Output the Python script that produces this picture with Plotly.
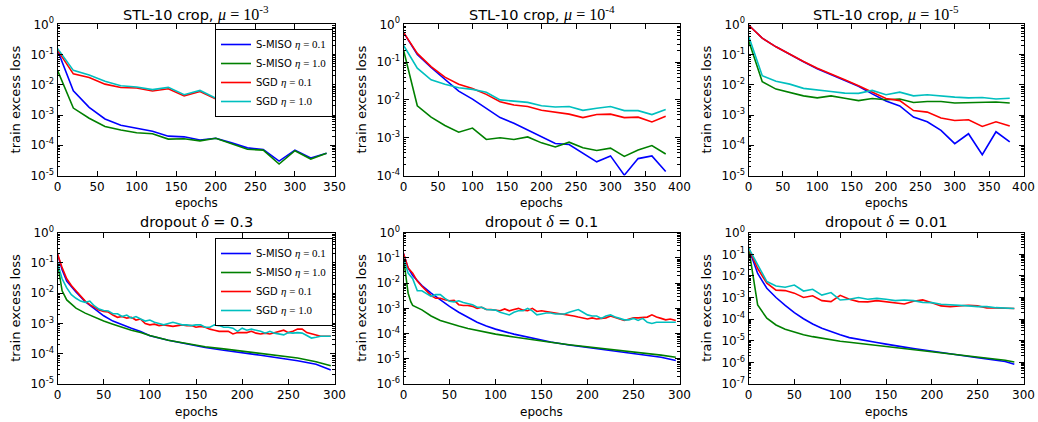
import plotly.graph_objects as go

# ---------------- data ----------------
series_names = ["S-MISO", "S-MISO", "SGD", "SGD"]
series_eta = ["0.1", "1.0", "0.1", "1.0"]
series_colors = ["#0000ff", "#008000", "#ff0000", "#00bfbf"]

# Panel 1: STL-10 crop, mu = 1e-3
p1_x = [0, 20, 40, 60, 80, 100, 120, 140, 160, 180, 200, 220, 240, 260, 280, 300, 320, 340]
p1_smiso01 = [0.14, 0.0063, 0.0018, 7.4e-4, 4.6e-4, 3.6e-4, 2.9e-4, 2.0e-4, 1.9e-4, 1.5e-4, 1.7e-4, 1.2e-4, 8.2e-5, 7.2e-5, 3.0e-5, 6.9e-5, 3.8e-5, 5.4e-5]
p1_smiso10 = [0.03, 1.7e-3, 7.8e-4, 4.2e-4, 3.2e-4, 2.6e-4, 2.4e-4, 1.6e-4, 1.65e-4, 1.4e-4, 1.7e-4, 1.1e-4, 7.4e-5, 6.9e-5, 2.4e-5, 6.6e-5, 3.5e-5, 5.4e-5]
p1_sgd01 = [0.14, 0.023, 0.0174, 0.0105, 0.0081, 0.0078, 0.0062, 0.0074, 0.0043, 0.006, 0.0034, 0.0041, 0.0036, 0.0023, 0.0022, 0.0024, 0.0018, 0.0022]
p1_sgd10 = [0.16, 0.03, 0.021, 0.013, 0.0093, 0.0084, 0.0069, 0.0082, 0.0047, 0.0065, 0.0036, 0.0045, 0.0039, 0.0024, 0.0023, 0.0026, 0.0019, 0.0024]

# Panel 2: STL-10 crop, mu = 1e-4
p2_x = [0, 20, 40, 60, 80, 100, 120, 140, 160, 180, 200, 220, 240, 260, 280, 300, 320, 340, 360, 380]
p2_smiso01 = [0.61, 0.16, 0.072, 0.034, 0.017, 0.0105, 0.006, 0.0034, 0.0024, 0.0016, 0.0011, 7e-4, 6.6e-4, 3.8e-4, 2.3e-4, 3.3e-4, 1.02e-4, 2.8e-4, 3.3e-4, 1.28e-4]
p2_smiso10 = [0.21, 0.007, 0.0035, 0.0021, 0.0014, 0.0018, 9e-4, 0.001, 9e-4, 0.00105, 7.3e-4, 5.7e-4, 7.6e-4, 5.4e-4, 4.6e-4, 5.3e-4, 3.2e-4, 4.7e-4, 6.2e-4, 3.7e-4]
p2_sgd01 = [0.61, 0.17, 0.076, 0.04, 0.026, 0.02, 0.014, 0.0089, 0.0073, 0.0067, 0.0053, 0.0048, 0.0042, 0.0034, 0.0041, 0.0042, 0.0034, 0.0035, 0.0026, 0.0037]
p2_sgd10 = [0.28, 0.069, 0.034, 0.026, 0.021, 0.019, 0.016, 0.010, 0.0093, 0.0086, 0.007, 0.0065, 0.0067, 0.0053, 0.006, 0.0067, 0.0052, 0.0052, 0.0041, 0.0056]

# Panel 3: STL-10 crop, mu = 1e-5
p3_x = [0, 20, 40, 60, 80, 100, 120, 140, 160, 180, 200, 220, 240, 260, 280, 300, 320, 340, 360, 380]
p3_smiso01 = [0.95, 0.35, 0.18, 0.10, 0.058, 0.034, 0.022, 0.014, 0.0089, 0.005, 0.0029, 0.002, 8.6e-4, 6e-4, 3.1e-4, 1.13e-4, 2.4e-4, 4.9e-5, 2.8e-4, 1.3e-4]
p3_smiso10 = [0.3, 0.0126, 0.0072, 0.0057, 0.0043, 0.0037, 0.0043, 0.0036, 0.003, 0.0035, 0.0032, 0.0034, 0.0026, 0.0028, 0.0028, 0.0025, 0.0026, 0.0026, 0.0027, 0.0025]
p3_sgd01 = [0.95, 0.35, 0.18, 0.10, 0.059, 0.035, 0.023, 0.0146, 0.0093, 0.0057, 0.0035, 0.003, 0.0014, 0.00125, 8e-4, 6.6e-4, 7e-4, 4.2e-4, 6e-4, 4.3e-4]
p3_sgd10 = [0.42, 0.020, 0.013, 0.0105, 0.0076, 0.0069, 0.006, 0.0053, 0.0052, 0.0065, 0.0047, 0.0057, 0.0043, 0.0047, 0.0042, 0.0039, 0.0037, 0.0038, 0.0034, 0.0036]

# Panel 4: dropout delta = 0.3
p4_xs = [0, 1, 5, 10, 20, 30, 40, 50, 60, 70, 80, 90, 100, 120, 140, 160, 180, 200, 220, 240, 260, 280, 296]
p4_smiso01 = [0.2, 0.15, 0.06, 0.025, 0.011, 0.0053, 0.003, 0.0018, 0.0012, 8.9e-4, 6.9e-4, 5.4e-4, 3.9e-4, 2.8e-4, 2.1e-4, 1.6e-4, 1.3e-4, 1.1e-4, 8.9e-5, 7.2e-5, 5.9e-5, 4.5e-5, 2.9e-5]
p4_xg = [0, 2, 5, 10, 20, 30, 40, 50, 60, 70, 80, 90, 100, 120, 140, 160, 180, 200, 220, 240, 260, 280, 296]
p4_smiso10 = [0.1, 0.04, 0.012, 0.006, 0.0032, 0.0022, 0.0016, 0.0012, 9.5e-4, 7.4e-4, 6e-4, 5e-4, 4e-4, 2.8e-4, 2.2e-4, 1.7e-4, 1.45e-4, 1.22e-4, 1.03e-4, 8.5e-5, 7.2e-5, 5.4e-5, 4e-5]
p4_xn = [0, 5, 10, 15, 20, 25, 30, 35, 40, 45, 50, 55, 60, 65, 70, 75, 80, 85, 90, 95, 100, 105, 110, 115, 120, 125, 130, 135, 140, 145, 150,
         155, 160, 165, 170, 175, 180, 185, 190, 195, 200, 205, 210, 215, 220, 225, 230, 235, 240, 245, 250, 255, 260, 265, 270, 275, 280, 285, 290, 296]
p4_sgd01 = [0.2, 0.07, 0.03, 0.018, 0.012, 0.008, 0.0055, 0.0042, 0.0035, 0.0028, 0.0025, 0.0024, 0.0019, 0.0016, 0.0017, 0.0015, 0.0016, 0.0013, 0.0014, 0.0010, 9e-4,
            9.5e-4, 8.5e-4, 9e-4, 8.5e-4, 8e-4, 8.5e-4, 9e-4, 8.5e-4, 8.5e-4, 7.5e-4, 8e-4, 7.5e-4, 6.5e-4, 6e-4, 5.5e-4, 5.5e-4, 5.5e-4, 4.5e-4, 5e-4, 5e-4,
            5e-4, 5.5e-4, 4.8e-4, 4.5e-4, 4.8e-4, 4.5e-4, 5e-4, 5.5e-4, 6e-4, 5e-4, 5.5e-4, 6.5e-4, 6.5e-4, 5e-4, 4.5e-4, 4e-4, 3.8e-4, 3.8e-4, 3.8e-4]
p4_sgd10 = [0.1, 0.03, 0.015, 0.009, 0.0068, 0.0055, 0.005, 0.0055, 0.0038, 0.0030, 0.0027, 0.0026, 0.0021, 0.0021, 0.0017, 0.0019, 0.0015, 0.0017, 0.0014, 0.0012, 0.0013,
            0.0011, 0.0010, 9e-4, 0.001, 0.0011, 0.001, 9e-4, 9e-4, 8.5e-4, 9e-4, 9e-4, 7.5e-4, 7.5e-4, 9e-4, 8.5e-4, 7.5e-4, 7.5e-4, 7e-4, 5.5e-4, 7e-4,
            6e-4, 6.5e-4, 6e-4, 5.5e-4, 4.8e-4, 5.5e-4, 4.8e-4, 4.5e-4, 4.2e-4, 5e-4, 4.8e-4, 5e-4, 4.8e-4, 4e-4, 3.3e-4, 3.5e-4, 3.8e-4, 3.8e-4, 3.8e-4]

# Panel 5: dropout delta = 0.1
p5_xs = [0, 5, 10, 20, 30, 40, 50, 60, 70, 80, 90, 100, 120, 140, 160, 180, 200, 220, 240, 260, 280, 296]
p5_smiso01 = [0.15, 0.04, 0.02, 0.008, 0.004, 0.0021, 0.0012, 7e-4, 4.3e-4, 2.8e-4, 2.0e-4, 1.5e-4, 9.5e-5, 6.4e-5, 4.6e-5, 3.5e-5, 2.8e-5, 2.2e-5, 1.85e-5, 1.5e-5, 1.15e-5, 8.5e-6]
p5_xg = [0, 2, 4, 5, 8, 10, 20, 30, 40, 50, 60, 70, 80, 90, 100, 120, 140, 160, 180, 200, 220, 240, 260, 280, 296]
p5_smiso10 = [0.1, 0.03, 0.01, 0.004, 0.0018, 0.0013, 8.7e-4, 5e-4, 3.3e-4, 2.5e-4, 2e-4, 1.6e-4, 1.35e-4, 1.12e-4, 9.5e-5, 7.3e-5, 5.6e-5, 4.5e-5, 3.6e-5, 3e-5, 2.5e-5, 2.1e-5, 1.7e-5, 1.4e-5, 1.15e-5]
p5_xn = p4_xn
p5_sgd01 = [0.15, 0.04, 0.025, 0.012, 0.0075, 0.005, 0.0032, 0.0025, 0.0025, 0.0022, 0.002, 0.0021, 0.0014, 0.0013, 0.0013, 0.0012, 0.0010, 0.0011, 9e-4, 9e-4, 8.5e-4,
            8e-4, 9.5e-4, 8e-4, 9e-4, 0.001, 8.5e-4, 8e-4, 0.001, 7.5e-4, 8e-4, 7.5e-4, 7e-4, 6.5e-4, 6e-4, 5.5e-4, 5.5e-4, 5e-4, 4.5e-4, 4e-4, 3.8e-4,
            4.2e-4, 3.8e-4, 4e-4, 4.2e-4, 5e-4, 4.5e-4, 3.8e-4, 3.3e-4, 3.6e-4, 4.2e-4, 4.2e-4, 4.3e-4, 4.5e-4, 5.5e-4, 4.5e-4, 4e-4, 3.5e-4, 3.8e-4, 3.3e-4]
p5_sgd10 = [0.1, 0.025, 0.015, 0.005, 0.005, 0.004, 0.003, 0.0035, 0.0035, 0.0025, 0.0019, 0.0018, 0.0020, 0.0017, 0.0015, 0.0014, 0.0011, 0.0011, 9e-4, 9e-4, 8.5e-4,
            7e-4, 6e-4, 5.5e-4, 7e-4, 8e-4, 8e-4, 0.001, 8e-4, 5.5e-4, 6e-4, 6.5e-4, 6.5e-4, 6e-4, 6e-4, 6e-4, 7e-4, 8e-4, 9e-4, 7e-4, 5.5e-4,
            5e-4, 5e-4, 4e-4, 5e-4, 5.5e-4, 4.5e-4, 4e-4, 3.5e-4, 3.5e-4, 4e-4, 3.3e-4, 4e-4, 2.8e-4, 2.5e-4, 2.8e-4, 2.8e-4, 2.8e-4, 3e-4, 2.8e-4]

# Panel 6: dropout delta = 0.01
p6_x = [0, 10, 20, 30, 40, 50, 60, 70, 80, 90, 100, 110, 120, 130, 140, 150, 160, 170, 180, 190, 200, 210, 220, 230, 240, 250, 260, 270, 280, 290]
p6_smiso01 = [0.2, 0.013, 0.0027, 0.001, 4.3e-4, 2e-4, 1.05e-4, 6e-5, 3.8e-5, 2.6e-5, 1.9e-5, 1.4e-5, 1.15e-5, 9.7e-6, 8.3e-6, 7e-6, 5.8e-6, 5.1e-6, 4.4e-6, 3.8e-6, 3.2e-6,
              2.8e-6, 2.5e-6, 2.15e-6, 1.85e-6, 1.65e-6, 1.45e-6, 1.27e-6, 1.1e-6, 8.2e-7]
p6_smiso10 = [0.22, 4.5e-4, 1.1e-4, 5.4e-5, 3.4e-5, 2.5e-5, 1.9e-5, 1.55e-5, 1.3e-5, 1.1e-5, 9.5e-6, 8.5e-6, 7.6e-6, 6.9e-6, 6.2e-6, 5.6e-6, 5e-6, 4.5e-6, 4.1e-6, 3.7e-6, 3.3e-6,
              2.9e-6, 2.6e-6, 2.35e-6, 2.1e-6, 1.9e-6, 1.7e-6, 1.45e-6, 1.26e-6, 1.05e-6]
p6_sgd01 = [0.2, 0.022, 0.0046, 0.0022, 0.0021, 0.0016, 0.001, 0.0012, 7.2e-4, 6.5e-4, 0.00127, 8.3e-4, 6.5e-4, 6.3e-4, 7.2e-4, 6.3e-4, 5.4e-4, 5e-4, 6.7e-4, 7.8e-4, 5.8e-4,
            4.1e-4, 3.8e-4, 4.2e-4, 4.4e-4, 4.1e-4, 3.3e-4, 3.3e-4, 3.2e-4, 3.1e-4]
p6_sgd10 = [0.2, 0.032, 0.0055, 0.0034, 0.003, 0.0038, 0.002, 0.0024, 0.0013, 0.0017, 7.7e-4, 8.3e-4, 0.001, 8.3e-4, 9.2e-4, 8.3e-4, 7.2e-4, 7.7e-4, 7.2e-4, 6e-4, 5.8e-4,
            4.9e-4, 4.5e-4, 4.2e-4, 4.1e-4, 3.8e-4, 3.8e-4, 3.4e-4, 3.3e-4, 3.1e-4]

MATH = "font-family:Liberation Serif;font-size:16px"
panel_titles = [
    f"STL-10 crop, <span style='{MATH}'><i>μ</i> = 10<sup>-3</sup></span>",
    f"STL-10 crop, <span style='{MATH}'><i>μ</i> = 10<sup>-4</sup></span>",
    f"STL-10 crop, <span style='{MATH}'><i>μ</i> = 10<sup>-5</sup></span>",
    f"dropout <span style='{MATH}'><i>δ</i></span> = 0.3",
    f"dropout <span style='{MATH}'><i>δ</i></span> = 0.1",
    f"dropout <span style='{MATH}'><i>δ</i></span> = 0.01",
]
x_max = [350, 400, 400, 300, 300, 300]
y_min_exp = [-5, -4, -5, -5, -6, -7]

panels = [
    [(p1_x, p1_smiso01), (p1_x, p1_smiso10), (p1_x, p1_sgd01), (p1_x, p1_sgd10)],
    [(p2_x, p2_smiso01), (p2_x, p2_smiso10), (p2_x, p2_sgd01), (p2_x, p2_sgd10)],
    [(p3_x, p3_smiso01), (p3_x, p3_smiso10), (p3_x, p3_sgd01), (p3_x, p3_sgd10)],
    [(p4_xs, p4_smiso01), (p4_xg, p4_smiso10), (p4_xn, p4_sgd01), (p4_xn, p4_sgd10)],
    [(p5_xs, p5_smiso01), (p5_xg, p5_smiso10), (p5_xn, p5_sgd01), (p5_xn, p5_sgd10)],
    [(p6_x, p6_smiso01), (p6_x, p6_smiso10), (p6_x, p6_sgd01), (p6_x, p6_sgd10)],
]

# ---------------- layout ----------------
W, H = 1038, 422
col_px = [(57.5, 334.5), (403.5, 679.5), (748.5, 1023.5)]
row_px = [(24.3, 175.5), (232.7, 384.0)]
FONT = "DejaVu Sans"

fig = go.Figure()
layout = dict(
    template="none",
    width=W, height=H, margin=dict(l=0, r=0, t=0, b=0, pad=0), autosize=False,
    paper_bgcolor="white", plot_bgcolor="white",
    font=dict(family=FONT, size=12, color="black"),
    showlegend=True, hovermode=False,
)
annotations = []

for i in range(6):
    r, c = divmod(i, 3)
    xa = "xaxis" if i == 0 else f"xaxis{i+1}"
    ya = "yaxis" if i == 0 else f"yaxis{i+1}"
    xref = "x" if i == 0 else f"x{i+1}"
    yref = "y" if i == 0 else f"y{i+1}"
    x0, x1 = col_px[c]
    y0, y1 = row_px[r]
    xdom = [x0 / W, x1 / W]
    ydom = [1 - y1 / H, 1 - y0 / H]
    ymin = y_min_exp[i]
    major = [10.0 ** e for e in range(ymin, 1)]
    major_text = [f"10<sup>{e}</sup>" for e in range(ymin, 1)]
    minor = [m * 10.0 ** e for e in range(ymin, 0) for m in range(2, 10)]
    layout[xa] = dict(
        domain=xdom, anchor=yref, range=[0, x_max[i]], automargin=False,
        tickmode="linear", tick0=0, dtick=50,
        ticks="inside", ticklen=5, tickwidth=1, tickcolor="black",
        showline=True, linecolor="black", linewidth=1, mirror="allticks",
        showgrid=False, zeroline=False,
        tickfont=dict(family=FONT, size=12, color="black"),
    )
    layout[ya] = dict(
        domain=ydom, anchor=xref, type="log", range=[ymin, 0], automargin=False,
        tickmode="array", tickvals=major, ticktext=major_text,
        ticks="inside", ticklen=5, tickwidth=1, tickcolor="black",
        minor=dict(tickmode="array", tickvals=minor, ticks="inside", ticklen=2.5, tickwidth=1, tickcolor="black", showgrid=False),
        showline=True, linecolor="black", linewidth=1, mirror="allticks",
        showgrid=False, zeroline=False,
        tickfont=dict(family=FONT, size=12, color="black"),
    )
    for k, (xs, ys) in enumerate(panels[i]):
        name = f"{series_names[k]} <span style='font-family:Liberation Serif;font-size:11px'><i>η</i> = {series_eta[k]}</span>"
        show = i in (0, 3)
        fig.add_trace(go.Scatter(
            x=xs, y=ys, mode="lines", name=name,
            line=dict(color=series_colors[k], width=1.6),
            xaxis=xref, yaxis=yref, showlegend=show,
            legend="legend" if i == 0 else "legend2",
        ))
    cx = (x0 + x1) / 2 / W
    annotations.append(dict(text=panel_titles[i], x=cx, y=1 - (y0 - 11) / H, xref="paper", yref="paper",
                            xanchor="center", yanchor="middle", showarrow=False,
                            font=dict(family=FONT, size=14.5, color="black")))
    annotations.append(dict(text="epochs", x=cx, y=1 - (y1 + 27.5) / H, xref="paper", yref="paper",
                            xanchor="center", yanchor="middle", showarrow=False,
                            font=dict(family=FONT, size=12, color="black")))
    annotations.append(dict(text="train excess loss", x=(x0 - 42) / W, y=1 - (y0 + y1) / 2 / H, xref="paper", yref="paper",
                            xanchor="center", yanchor="middle", showarrow=False, textangle=-90,
                            font=dict(family=FONT, size=13, color="black")))

leg_common = dict(
    xanchor="right", yanchor="top", bgcolor="white", bordercolor="black", borderwidth=1,
    font=dict(family=FONT, size=10, color="black"), tracegroupgap=0,
)
layout["legend"] = dict(x=333 / W, y=1 - 29 / H, **leg_common)
layout["legend2"] = dict(x=333 / W, y=1 - 238 / H, **leg_common)
layout["annotations"] = annotations

fig.update_layout(**layout)
fig.write_html(
    "out.html",
    config={"displayModeBar": False, "staticPlot": True},
    post_script="document.body.style.margin='0';document.body.style.overflow='hidden';",
)
